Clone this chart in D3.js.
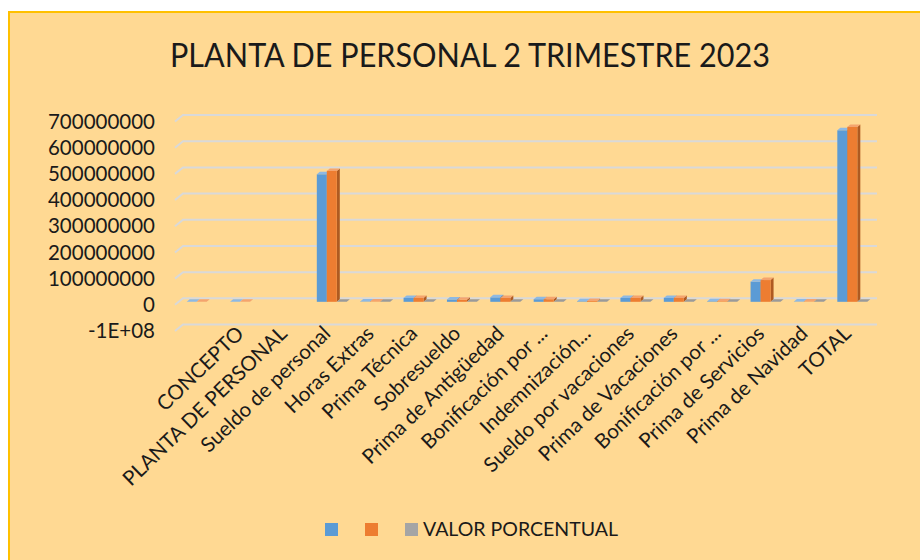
<!DOCTYPE html>
<html>
<head>
<meta charset="utf-8">
<script src="https://cdn.jsdelivr.net/npm/d3@7"></script>
<style>
  body { margin: 0; background: #fff; }
  svg { display: block; }
  text { font-family: Lato, "Open Sans", sans-serif; fill: #1a1a1a; }
</style>
</head>
<body>
<div class="chart"></div>
<script>
// categories (first slot has no label in the original sheet)
var categories = ["", "CONCEPTO", "PLANTA DE PERSONAL", "Sueldo de personal", "Horas Extras",
  "Prima Técnica", "Sobresueldo", "Prima de Antigüedad", "Bonificación por ...",
  "Indemnización...", "Sueldo por vacaciones", "Prima de Vacaciones",
  "Bonificación por ...", "Prima de Servicios", "Prima de Navidad", "TOTAL"];

// series values (null = empty cell, nothing drawn)
var valuesBlue = [0, 0, null, 487000000, 1000000, 15000000, 9000000, 17000000, 10000000,
  2000000, 15000000, 15000000, 2000000, 77000000, 1000000, 655000000];
var valuesOrange = [0, 0, null, 500000000, 1000000, 15000000, 8000000, 15000000, 10000000,
  3000000, 15000000, 15000000, 2000000, 83000000, 1000000, 668000000];
var valuesPct = [null, null, null, 0.75, 0.002, 0.023, 0.013, 0.025, 0.015,
  0.004, 0.023, 0.023, 0.003, 0.12, 0.002, 1];

var yTicks = [-100000000, 0, 100000000, 200000000, 300000000, 400000000, 500000000, 600000000, 700000000];
var yTickLabels = ["-1E+08", "0", "100000000", "200000000", "300000000", "400000000", "500000000", "600000000", "700000000"];

var seriesNames = ["", "", "VALOR PORCENTUAL"];
var seriesColors = [
  { front: "#5B9BD5", top: "#8DB9E4", side: "#41719C" },
  { front: "#ED7D31", top: "#F4A46E", side: "#AE5A21" },
  { front: "#A5A5A5", top: "#9A9A9A", side: "#7C7C7C" }
];

var width = 920, height = 560;
var svg = d3.select(".chart").append("svg").attr("width", width).attr("height", height);

// chart area
svg.append("rect").attr("x", 9).attr("y", 12).attr("width", 1000).attr("height", 1000)
  .attr("fill", "#FFD993").attr("stroke", "#FFC000").attr("stroke-width", 2);

// title
svg.append("text").attr("x", 470).attr("y", 67).attr("text-anchor", "middle")
  .attr("font-size", 32).attr("textLength", 600).attr("lengthAdjust", "spacingAndGlyphs")
  .text("PLANTA DE PERSONAL 2 TRIMESTRE 2023");

// scales (front plane), back wall offset
var depthX = 8, depthY = -6.5;
var x = d3.scaleBand().domain(d3.range(categories.length)).range([175, 869]);
var y = d3.scaleLinear().domain([-100000000, 700000000]).range([331, 121.5]);
var xSub = d3.scaleBand().domain([0, 1, 2]).range([-10, 20]);

// gridlines with 3D corner
svg.append("g").selectAll("path").data(yTicks).enter().append("path")
  .attr("d", function (t) {
    var yy = y(t);
    return "M" + 175 + "," + yy + "L" + (175 + depthX) + "," + (yy + depthY) +
      "L" + (869 + depthX) + "," + (yy + depthY);
  })
  .attr("fill", "none").attr("stroke", "#D9D9D9").attr("stroke-width", 2);

// y tick labels
svg.append("g").selectAll("text").data(yTicks).enter().append("text")
  .attr("x", 155).attr("y", function (t) { return y(t); })
  .attr("dy", "0.35em").attr("text-anchor", "end").attr("font-size", 20.5)
  .text(function (t, i) { return yTickLabels[i]; });

// bars (front face, top, side)
var allSeries = [valuesBlue, valuesOrange, valuesPct];
var bx = 3, by = -2.5, baseShift = -3;
var bars = [];
allSeries.forEach(function (vals, s) {
  vals.forEach(function (v, i) {
    if (v !== null) bars.push({ s: s, i: i, v: v });
  });
});
// draw back to front: category order, series order
bars.sort(function (a, b) { return a.i - b.i || a.s - b.s; });

var g = svg.append("g");
bars.forEach(function (d) {
  var x0 = x(d.i) + x.bandwidth() / 2 + xSub(d.s);
  var w = xSub.bandwidth();
  var y0 = y(0) + baseShift;
  var y1 = y(d.v) + baseShift;
  var c = seriesColors[d.s];
  // side
  g.append("path")
    .attr("d", "M" + (x0 + w) + "," + y1 + "L" + (x0 + w + bx) + "," + (y1 + by) +
      "L" + (x0 + w + bx) + "," + (y0 + by) + "L" + (x0 + w) + "," + y0 + "Z")
    .attr("fill", c.side);
  // front
  g.append("rect").attr("x", x0).attr("y", y1).attr("width", w).attr("height", Math.max(0, y0 - y1))
    .attr("fill", c.front);
  // top
  g.append("path")
    .attr("d", "M" + x0 + "," + y1 + "L" + (x0 + bx) + "," + (y1 + by) +
      "L" + (x0 + w + bx) + "," + (y1 + by) + "L" + (x0 + w) + "," + y1 + "Z")
    .attr("fill", c.top);
});

// category labels rotated
svg.append("g").selectAll("text").data(categories).enter().append("text")
  .attr("transform", function (d, i) {
    return "translate(" + (x(i) + x.bandwidth() / 2 + 5) + "," + 335 + ") rotate(-44)";
  })
  .attr("text-anchor", "end").attr("font-size", 20.5)
  .text(function (d) { return d; });

// legend
var legendX = [325, 365, 405];
var leg = svg.append("g");
seriesNames.forEach(function (name, s) {
  leg.append("rect").attr("x", legendX[s]).attr("y", 523).attr("width", 13).attr("height", 13)
    .attr("fill", seriesColors[s].front);
  if (name) {
    leg.append("text").attr("x", legendX[s] + 18).attr("y", 536).attr("font-size", 19)
      .attr("textLength", 195).attr("lengthAdjust", "spacingAndGlyphs").text(name);
  }
});
</script>
</body>
</html>
